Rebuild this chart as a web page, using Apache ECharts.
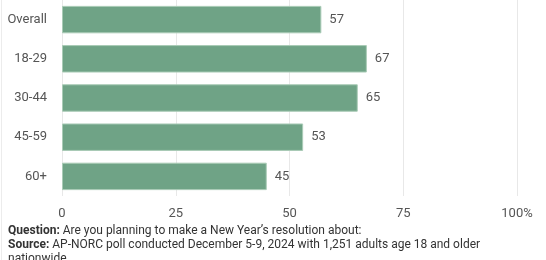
<!DOCTYPE html>
<html><head><meta charset="utf-8">
<script src="https://cdn.jsdelivr.net/npm/echarts@6/dist/echarts.min.js"></script>
<style>html,body{margin:0;padding:0;background:#fff}#c{width:546px;height:260px}</style>
</head><body><div id="c"></div>
<script>
var categories = ['Overall', '18-29', '30-44', '45-59', '60+'];
var values = [57, 67, 65, 53, 45];
var xTicks = [0, 25, 50, 75, 100];
var questionLabel = 'Question:';
var questionText = ' Are you planning to make a New Year\u2019s resolution about:';
var sourceLabel = 'Source:';
var sourceText = ' AP-NORC poll conducted December 5-9, 2024 with 1,251 adults age 18 and older';
var sourceText2 = 'nationwide';

var chart = echarts.init(document.getElementById('c'), null, {renderer: 'canvas'});
chart.setOption({
  animation: false,
  textStyle: {fontFamily: 'Roboto'},
  grid: {left: 62, right: 29, top: 0, height: 196},
  xAxis: {
    type: 'value', min: 0, max: 100, interval: 25,
    axisLine: {show: false}, axisTick: {show: false},
    splitLine: {lineStyle: {color: '#e8e8e8', width: 1}},
    axisLabel: {color: '#555', fontSize: 13, margin: 11,
      formatter: function (v) { return v === 100 ? '100%' : String(v); }}
  },
  yAxis: {
    type: 'category', data: categories, inverse: true,
    axisLine: {show: false}, axisTick: {show: false},
    axisLabel: {color: '#555', fontSize: 13, margin: 15}
  },
  series: [{
    type: 'bar', data: values, barCategoryGap: '30%',
    itemStyle: {color: '#6fa386', borderColor: '#a9cbb6', borderWidth: 1},
    label: {show: true, position: 'right', distance: 8, color: '#555', fontSize: 13}
  }],
  graphic: [{
    type: 'line', shape: {x1: 1.5, y1: 0, x2: 1.5, y2: 260},
    style: {stroke: '#ececec', lineWidth: 1}
  }, {
    type: 'text', left: 8, top: 225,
    style: {
      text: '{b|' + questionLabel + '}{n|' + questionText + '}\n{b|' + sourceLabel + '}{n|' + sourceText + '}\n{n|' + sourceText2 + '}',
      rich: {
        b: {fontFamily: 'Roboto', fontWeight: 'bold', fontSize: 12, fill: '#333', lineHeight: 14},
        n: {fontFamily: 'Roboto', fontSize: 12, fill: '#333', lineHeight: 14}
      }
    }
  }]
});
</script></body></html>
